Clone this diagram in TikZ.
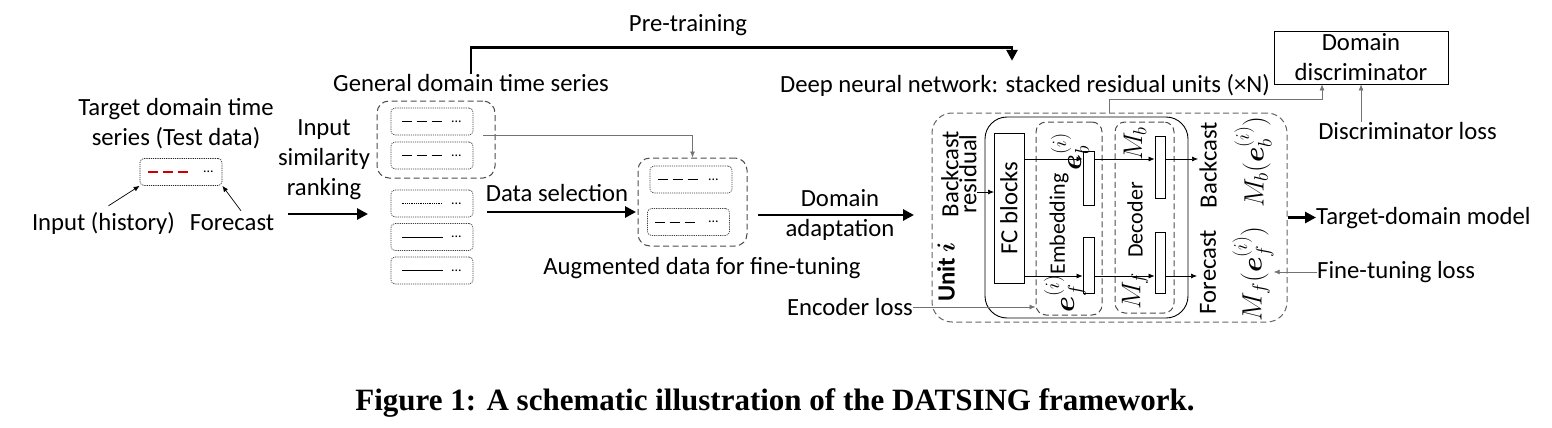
\RequirePackage{fix-cm}
\documentclass[tikz,border=0pt]{standalone}
\usepackage{amsmath}
\usepackage{bm}
\usepackage{fontspec}
\setmainfont{Carlito}
\newfontfamily\capfont{Liberation Serif}
\usetikzlibrary{arrows.meta}

\begin{document}
\begin{tikzpicture}[x=1pt, y=-1pt,
	font=\fontsize{24.7}{30}\selectfont,
	txt/.style={inner sep=0pt, align=center},
	serie/.style={draw=black!75, dash pattern=on 1.2pt off 1pt, line width=0.7pt, rounded corners=4pt, minimum width=82pt, minimum height=27pt, inner sep=0pt},
	gruppe/.style={draw=black!70, dash pattern=on 6pt off 3.5pt, line width=1pt, rounded corners=12pt, inner sep=0pt},
	block/.style={draw, line width=0.8pt, inner sep=0pt},
	punkte/.style={inner sep=0pt, font=\fontsize{14}{14}\selectfont},
	formel/.style={txt, rotate=90, font=\fontsize{#1}{#1}\selectfont},
	pfeil/.style={-{Latex[length=6pt,width=5pt]}, line width=0.7pt},
	grau/.style={pfeil, draw=black!55},
	dick/.style={-{Triangle[length=11pt,width=11pt]}, line width=2.8pt}]
	\useasboundingbox (0,0) rectangle (1552,428);
	%\draw[help lines, step=50] (0,0) grid (1552,428);

	% Zielreihe links
	\node[txt] (zieltxt) at (176,124) {Target domain time\\series (Test data)};
	\node[serie, draw=black!85] (ziel) at (181,172) {};
	\draw[red!80!black, line width=1.2pt, dash pattern=on 10pt off 5pt] ([xshift=8pt]ziel.west) -- ++(42,0);	% Eingabe
	\node[punkte] at ([xshift=-14pt]ziel.east) {...};
	\node[txt] (inhist) at (103.5,223) {Input (history)};
	\node[txt] (fcast) at (232,223) {Forecast};
	\draw[pfeil] ([xshift=5pt,yshift=6pt]inhist.north) -- (ziel.south west);
	\draw[pfeil] ([xshift=9pt,yshift=4pt]fcast.north) -- (ziel.south east);

	\node[txt] (rank) at (324,160) {Input\\similarity\\ranking};
	\coordinate (r1) at (288,214);
	\coordinate (r2) at (368,214);
	\draw[dick] (r1) -- (r2);

	% allgemeine Reihen
	\node[txt] (gentxt) at (471,83) {General domain time series};
	\node[gruppe, minimum width=118pt, minimum height=77pt] (gen) at (436,139.5) {};
	\node[serie] (g1) at (432,121.5) {};
	\node[serie] (g2) at (432,155.5) {};
	\node[serie] (g3) at (432,203.5) {};
	\node[serie] (g4) at (432,237) {};
	\node[serie] (g5) at (432,270.5) {};
	\draw[line width=1pt, dash pattern=on 10pt off 5pt] ([xshift=11pt]g1.west) -- ++(41,0);
	\draw[line width=1pt, dash pattern=on 10pt off 5pt] ([xshift=11pt]g2.west) -- ++(41,0);
	\draw[line width=0.6pt, dash pattern=on 0.7pt off 1.1pt] ([xshift=11pt]g3.west) -- ++(41,0);
	\draw[line width=1pt] ([xshift=11pt]g4.west) -- ++(41,0);
	\draw[line width=1pt] ([xshift=11pt]g5.west) -- ++(41,0);
	\node[punkte] at ([xshift=-17pt]g1.east) {...};
	\node[punkte] at ([xshift=-17pt]g2.east) {...};
	\node[punkte] at ([xshift=-17pt]g3.east) {...};
	\node[punkte] at ([xshift=-17pt]g4.east) {...};
	\node[punkte] at ([xshift=-17pt]g5.east) {...};

	\node[txt] (dsel) at (557,193) {Data selection};
	\coordinate (d1) at (487,212);
	\coordinate (d2) at (636,212);
	\draw[dick] (d1) -- (d2);

	% erweiterte Daten
	\node[gruppe, minimum width=109pt, minimum height=88pt] (aug) at (692.5,202) {};
	\node[serie] (a1) at (691,179.5) {};
	\node[serie] (a2) at (688.5,222) {};
	\draw[line width=1pt, dash pattern=on 10pt off 5pt] ([xshift=8pt]a1.west) -- ++(44,0);
	\draw[line width=1pt, dash pattern=on 10pt off 5pt] ([xshift=7.5pt]a2.west) -- ++(40,0);
	\node[punkte] at ([xshift=-19pt]a1.east) {...};
	\node[punkte] at ([xshift=-16.5pt]a2.east) {...};
	\node[txt] (augtxt) at (702,268) {Augmented data for fine-tuning};
	\draw[grau] ([xshift=10pt]g1.south east) -| (aug.north);

	\node[txt] (adapt) at (840,215) {Domain\\adaptation};
	\coordinate (ad1) at (758,215);
	\coordinate (ad2) at (914,215);
	\draw[dick] (ad1) -- (ad2);

	% Vortraining
	\node[txt] (pretxt) at (688,25) {Pre-training};
	\node[txt] (dnn) at (1025,85) {Deep neural network: stacked residual units (×N)};
	\draw[dick] (gentxt.north) -- ++(0,-27) -| ([xshift=-13pt,yshift=13pt]dnn.north);

	% Einheit i
	\node[gruppe, draw=black!60, minimum width=355pt, minimum height=209pt, rounded corners=20pt] (unit) at (1109.5,217.5) {};
	\node[draw, line width=0.9pt, rounded corners=22pt, minimum width=203pt, minimum height=201pt, inner sep=0pt] (kern) at (1086.5,217.5) {};
	\node[block, minimum width=30pt, minimum height=150pt] (fcb) at (1009,208) {};
	\node[txt, rotate=90] at (fcb) {FC blocks};
	\node[gruppe, minimum width=66pt, minimum height=193pt, rounded corners=10pt] (emb) at (1069,218.5) {};
	\node[gruppe, minimum width=59pt, minimum height=191pt, rounded corners=10pt] (dec) at (1144.5,217.5) {};
	\node[block, minimum width=11pt, minimum height=54pt] (eb) at (1088.5,178) {};
	\node[block, minimum width=11pt, minimum height=56pt] (ef) at (1088.5,265) {};
	\node[block, minimum width=10pt, minimum height=62pt] (mb) at (1160,167) {};
	\node[block, minimum width=10pt, minimum height=61pt] (mf) at (1160,262.5) {};

	\coordinate (bout) at (1198,159);		% Backcast-Ausgang
	\coordinate (fout) at (1197,276);		% Forecast-Ausgang
	\draw[pfeil] (fcb.east |- bout) -- (eb.west |- bout);
	\draw[pfeil] (eb.east |- bout) -- (mb.west |- bout);
	\draw[pfeil] (mb.east |- bout) -- (bout);
	\draw[pfeil] (fcb.east |- fout) -- (ef.west |- fout);
	\draw[pfeil] (ef.east |- fout) -- (mf.west |- fout);
	\draw[pfeil] (mf.east |- fout) -- (fout);

	\node[txt, rotate=90, font=\fontsize{24.7}{18}\selectfont] (resid) at (959,174) {Backcast\\residual};
	\coordinate (rin) at (994,192);
	\draw[pfeil] (rin -| resid.south) -- (rin);
	\node[txt, rotate=90, font=\fontsize{24.7}{30}\selectfont\bfseries] (unittxt) at (946,272) {Unit $\bm{i}$};

	\node[txt, rotate=90, font=\fontsize{22}{22}\selectfont] (embtxt) at (1059,224) {Embedding};
	\node[formel=29] (ebtxt) at (1070,152) {$\bm{e}_b^{(i)}$};
	\node[formel=29] (eftxt) at (1065,294) {$\bm{e}_f^{(i)}$};
	\node[txt, rotate=90, font=\fontsize{22}{22}\selectfont] (dectxt) at (1135,220) {Decoder};
	\node[formel=27] (mbtxt) at (1135,144) {$M_b$};
	\node[formel=27] (mftxt) at (1135,291) {$M_f$};

	\node[txt, rotate=90] (bctxt) at (1208,165) {Backcast};
	\node[txt, rotate=90] (fctxt) at (1208,272) {Forecast};
	\node[formel=28] (mbe) at (1253,162) {$M_b(\bm{e}_b^{(i)})$};
	\node[formel=28] (mfe) at (1253,274) {$M_f(\bm{e}_f^{(i)})$};

	\node[txt] (encl) at (850,307) {Encoder loss};
	\draw[grau] (encl.east) -- (encl.east -| emb.west);

	% Diskriminator rechts
	\node[txt, draw, line width=0.8pt, minimum width=174pt, minimum height=53pt] (disc) at (1361,57.5) {Domain\\discriminator};
	\node[txt] (dloss) at (1407.5,131) {Discriminator loss};
	\draw[grau] (dloss.north -| disc.south) -- (disc.south);
	\draw[grau] (unit.north) -- ++(0,-13) -| ([xshift=-39pt]disc.south);
	\node[txt, anchor=west] (tdm) at (1316,218) {Target-domain model};
	\draw[dick] (unit.east) -- (unit.east -| tdm.west);
	\node[txt, anchor=west] (ftl) at (1317,272) {Fine-tuning loss};
	\draw[grau] (ftl.west) -- (ftl.west -| mfe.south);

	% Bildunterschrift
	\node[txt, anchor=base, font=\capfont\bfseries\fontsize{31}{31}\selectfont] (cap) at (775,410) {Figure 1: A schematic illustration of the DATSING framework.};
\end{tikzpicture}
\end{document}
